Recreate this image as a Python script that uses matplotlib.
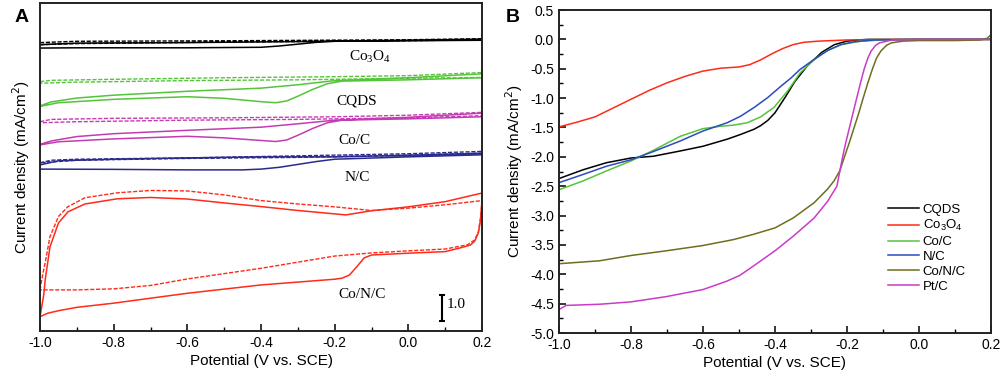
import numpy as np
import matplotlib
matplotlib.use('Agg')
import matplotlib.pyplot as plt
from matplotlib.ticker import MultipleLocator, FormatStrFormatter

plt.rcParams['font.family'] = ['Liberation Sans', 'DejaVu Sans']
plt.rcParams['axes.unicode_minus'] = False

# ---------------- panel A : CV curves (offset, arbitrary zero) ----------------
# each loop = anodic branch (-1.0 -> 0.2) followed by cathodic branch (0.2 -> -1.0)
co3o4_x = [-1.0, -0.9, -0.6, -0.3, 0.0, 0.2, 0.2, 0.0, -0.2, -0.25, -0.3, -0.35, -0.4, -0.6, -0.9, -1.0, -1.0]
co3o4_y = [11.0, 11.06, 11.08, 11.12, 11.17, 11.21, 11.17, 11.15, 11.13, 11.09, 11.02, 10.95, 10.90, 10.88, 10.88, 10.87, 11.0]
co3o4_dx = [-1.0, -0.9, -0.5, 0.0, 0.2, 0.2, 0.0, -0.5, -0.9, -1.0, -1.0]
co3o4_dy = [11.08, 11.13, 11.15, 11.19, 11.23, 11.19, 11.15, 11.10, 11.04, 11.0, 11.08]

cqds_x = [-1.0, -0.97, -0.9, -0.8, -0.6, -0.4, -0.3, -0.2, 0.0, 0.2,
          0.2, 0.0, -0.18, -0.22, -0.26, -0.3, -0.33, -0.36, -0.4, -0.5, -0.6, -0.8, -0.95, -1.0]
cqds_y = [8.65, 8.80, 8.95, 9.06, 9.21, 9.33, 9.46, 9.62, 9.73, 9.88,
          9.73, 9.65, 9.60, 9.50, 9.28, 9.02, 8.84, 8.77, 8.81, 8.94, 9.0, 8.90, 8.77, 8.63]
cqds_dx = [-1.0, -0.97, -0.8, -0.5, -0.2, 0.0, 0.2, 0.2, 0.0, -0.3, -0.6, -0.9, -1.0, -1.0]
cqds_dy = [9.58, 9.63, 9.67, 9.73, 9.77, 9.81, 9.93, 9.74, 9.71, 9.65, 9.62, 9.56, 9.52, 9.58]

coc_x = cqds_x
coc_y = [7.17, 7.30, 7.47, 7.58, 7.71, 7.83, 7.96, 8.10, 8.21, 8.37,
         8.23, 8.15, 8.10, 8.00, 7.78, 7.52, 7.34, 7.28, 7.32, 7.42, 7.48, 7.38, 7.27, 7.15]
coc_dx = [-1.0, -0.97, -0.8, -0.5, -0.2, 0.0, 0.2, 0.2, 0.0, -0.3, -0.6, -0.9, -1.0, -1.0]
coc_dy = [8.04, 8.13, 8.17, 8.19, 8.23, 8.29, 8.40, 8.27, 8.19, 8.13, 8.10, 8.04, 8.0, 8.04]

nc_x = [-1.0, -0.95, -0.8, -0.6, -0.4, -0.2, 0.0, 0.2,
        0.2, 0.0, -0.2, -0.25, -0.3, -0.35, -0.4, -0.45, -0.6, -0.8, -1.0, -1.0]
nc_y = [6.38, 6.54, 6.60, 6.65, 6.69, 6.69, 6.75, 6.83,
        6.77, 6.69, 6.60, 6.51, 6.40, 6.29, 6.22, 6.19, 6.19, 6.21, 6.22, 6.38]
nc_dx = [-1.0, -0.97, -0.9, -0.6, -0.3, 0.0, 0.2, 0.2, 0.0, -0.3, -0.6, -0.9, -1.0]
nc_dy = [6.46, 6.56, 6.60, 6.65, 6.73, 6.81, 6.90, 6.83, 6.75, 6.67, 6.63, 6.56, 6.46]

conc_x = [-1.0, -0.99, -0.986, -0.973, -0.95, -0.924, -0.878, -0.79, -0.7, -0.6, -0.5, -0.4,
          -0.3, -0.2, -0.17, -0.1, 0.0, 0.1, 0.2,
          0.2, 0.199, 0.196, 0.19, 0.18, 0.168, 0.14, 0.1, 0.0, -0.1, -0.12, -0.14, -0.16,
          -0.18, -0.2, -0.4, -0.6, -0.8, -0.9, -0.95, -0.98, -1.0]
conc_y = [0.55, 1.38, 1.96, 3.23, 4.15, 4.58, 4.88, 5.08, 5.13, 5.07, 4.92, 4.78,
          4.63, 4.50, 4.46, 4.62, 4.77, 4.97, 5.30,
          5.30, 4.85, 4.27, 3.77, 3.45, 3.30, 3.19, 3.05, 2.99, 2.92, 2.81, 2.47, 2.15,
          2.03, 1.99, 1.77, 1.45, 1.07, 0.91, 0.78, 0.68, 0.55]
conc_dx = [-1.0, -0.993, -0.986, -0.973, -0.95, -0.924, -0.878, -0.79, -0.7, -0.6, -0.5, -0.4,
           -0.3, -0.2, -0.1, 0.0, 0.1, 0.2,
           0.2, 0.197, 0.19, 0.18, 0.16, 0.1, 0.0, -0.1, -0.2, -0.4, -0.6, -0.7, -0.8, -0.9, -1.0]
conc_dy = [1.58, 2.15, 2.62, 3.62, 4.40, 4.78, 5.12, 5.31, 5.40, 5.38, 5.23, 5.01,
           4.88, 4.77, 4.63, 4.72, 4.85, 5.01,
           5.01, 4.46, 3.81, 3.50, 3.31, 3.15, 3.08, 3.00, 2.88, 2.41, 2.00, 1.75, 1.62, 1.58, 1.58]

# ---------------- panel B : LSV curves ----------------
cqds_bx = [-1.0, -0.933, -0.868, -0.8, -0.738, -0.663, -0.6, -0.533, -0.496, -0.458, -0.44,
           -0.42, -0.40, -0.37, -0.345, -0.31, -0.27, -0.235, -0.2, -0.17, -0.142, 0.0, 0.2]
cqds_by = [-2.37, -2.22, -2.10, -2.02, -1.99, -1.90, -1.82, -1.70, -1.62, -1.53, -1.47,
           -1.38, -1.25, -0.97, -0.72, -0.45, -0.22, -0.09, -0.03, -0.01, 0.0, 0.0, 0.0]

co3o4_bx = [-1.0, -0.95, -0.9, -0.85, -0.8, -0.75, -0.7, -0.65, -0.6, -0.55, -0.5, -0.47,
            -0.44, -0.41, -0.38, -0.35, -0.32, -0.28, -0.2, 0.0, 0.2]
co3o4_by = [-1.49, -1.41, -1.32, -1.17, -1.02, -0.87, -0.74, -0.63, -0.54, -0.49, -0.47, -0.43,
            -0.35, -0.25, -0.16, -0.09, -0.05, -0.03, -0.01, 0.0, 0.0]

coc_bx = [-1.0, -0.933, -0.868, -0.8, -0.738, -0.663, -0.6, -0.552, -0.515, -0.477, -0.44,
          -0.403, -0.365, -0.33, -0.291, -0.254, -0.217, -0.161, -0.1, 0.0, 0.2]
coc_by = [-2.56, -2.41, -2.24, -2.07, -1.89, -1.65, -1.52, -1.48, -1.46, -1.42, -1.32,
          -1.16, -0.88, -0.57, -0.34, -0.19, -0.09, -0.03, -0.01, 0.0, 0.0]

nc_bx = [-1.0, -0.933, -0.868, -0.8, -0.738, -0.663, -0.6, -0.533, -0.496, -0.458, -0.42,
         -0.384, -0.356, -0.33, -0.291, -0.254, -0.217, -0.18, -0.125, 0.0, 0.2]
nc_by = [-2.44, -2.30, -2.16, -2.05, -1.91, -1.73, -1.56, -1.42, -1.31, -1.16, -0.99,
         -0.80, -0.66, -0.51, -0.34, -0.19, -0.09, -0.04, -0.01, 0.0, 0.0]

conc_bx = [-1.0, -0.887, -0.8, -0.702, -0.6, -0.516, -0.46, -0.4, -0.349, -0.291, -0.254,
           -0.236, -0.22, -0.207, -0.193, -0.18, -0.167, -0.155, -0.142, -0.129, -0.118,
           -0.106, -0.09, -0.077, -0.045, 0.0, 0.1, 0.17, 0.19, 0.2]
conc_by = [-3.82, -3.77, -3.68, -3.60, -3.51, -3.41, -3.32, -3.21, -3.04, -2.78, -2.55,
           -2.41, -2.24, -2.0, -1.75, -1.5, -1.25, -1.0, -0.74, -0.5, -0.32,
           -0.2, -0.1, -0.06, -0.03, -0.02, -0.02, -0.01, 0.02, 0.08]

ptc_bx = [-1.0, -0.98, -0.933, -0.887, -0.8, -0.702, -0.6, -0.535, -0.498, -0.46, -0.4,
          -0.349, -0.291, -0.254, -0.228, -0.212, -0.203, -0.193, -0.183, -0.173, -0.162,
          -0.152, -0.142, -0.133, -0.12, -0.11, -0.074, 0.0, 0.2]
ptc_by = [-4.60, -4.53, -4.52, -4.51, -4.47, -4.38, -4.26, -4.12, -4.02, -3.86, -3.60,
          -3.35, -3.04, -2.76, -2.5, -2.0, -1.75, -1.5, -1.25, -1.0, -0.73,
          -0.5, -0.32, -0.2, -0.1, -0.06, -0.01, 0.0, 0.0]

red = '#ff2a1a'
green = '#55c43a'
magenta = '#c43cb4'
navy = '#2a2a8c'
blue = '#2b4bc0'
olive = '#6e6e1e'

fig = plt.figure(figsize=(10.03, 3.78), dpi=100)
axA = fig.add_axes([0.0399, 0.1243, 0.4407, 0.8677])
axB = fig.add_axes([0.5573, 0.119, 0.4307, 0.8545])

dash = (0, (3, 1.2))
for (sx, sy, dx, dy, c) in [(co3o4_x, co3o4_y, co3o4_dx, co3o4_dy, 'black'),
                            (cqds_x, cqds_y, cqds_dx, cqds_dy, green),
                            (coc_x, coc_y, coc_dx, coc_dy, magenta),
                            (nc_x, nc_y, nc_dx, nc_dy, navy),
                            (conc_x, conc_y, conc_dx, conc_dy, red)]:
    axA.plot(dx, dy, color=c, lw=1.0, linestyle=dash)
    axA.plot(sx, sy, color=c, lw=1.1)

axA.set_xlim(-1.0, 0.2)
axA.set_ylim(0, 12.6)
axA.set_yticks([])
axA.xaxis.set_major_locator(MultipleLocator(0.2))
axA.xaxis.set_minor_locator(MultipleLocator(0.1))
axA.xaxis.set_major_formatter(FormatStrFormatter('%.1f'))
axA.set_xlabel('Potential (V vs. SCE)', fontsize=11, labelpad=3)
axA.set_ylabel('Current density (mA/cm$^2$)', fontsize=11, labelpad=6)

serif = ['Liberation Serif', 'DejaVu Serif']
labels_a = [(r'$\mathregular{Co_3O_4}$', -0.104, 10.54), ('CQDS', -0.139, 8.85), ('Co/C', -0.147, 7.31),
            ('N/C', -0.139, 5.88), ('Co/N/C', -0.126, 1.42)]
for t, x, y in labels_a:
    axA.text(x, y, t, family=serif, fontsize=11, ha='center', va='center')

# scale bar
scale_x, scale_lo, scale_len = 0.0915, 0.38, 1.0
axA.vlines(scale_x, scale_lo, scale_lo + scale_len, color='black', lw=1.5)
axA.hlines([scale_lo, scale_lo + scale_len], scale_x - 0.008, scale_x + 0.008, color='black', lw=1.5)
axA.text(scale_x + 0.012, scale_lo + 0.65 * scale_len, '1.0', family=serif, fontsize=11,
         ha='left', va='center')

series_b = [(cqds_bx, cqds_by, 'black', 'CQDS'),
            (co3o4_bx, co3o4_by, red, r'$\mathregular{Co_3O_4}$'),
            (coc_bx, coc_by, green, 'Co/C'),
            (nc_bx, nc_by, blue, 'N/C'),
            (conc_bx, conc_by, olive, 'Co/N/C'),
            (ptc_bx, ptc_by, '#c83cc8', 'Pt/C')]
for x, y, c, lab in series_b:
    axB.plot(x, y, color=c, lw=1.1, label=lab)

axB.set_xlim(-1.0, 0.2)
axB.set_ylim(-5.0, 0.5)
axB.xaxis.set_major_locator(MultipleLocator(0.2))
axB.xaxis.set_minor_locator(MultipleLocator(0.1))
axB.yaxis.set_major_locator(MultipleLocator(0.5))
axB.yaxis.set_minor_locator(MultipleLocator(0.25))
axB.xaxis.set_major_formatter(FormatStrFormatter('%.1f'))
axB.yaxis.set_major_formatter(FormatStrFormatter('%.1f'))
axB.set_xlabel('Potential (V vs. SCE)', fontsize=11, labelpad=3)
axB.set_ylabel('Current density (mA/cm$^2$)', fontsize=11, labelpad=4)
axB.legend(loc='center left', bbox_to_anchor=(0.735, 0.263), frameon=False, fontsize=9.5,
           handlelength=2.3, handletextpad=0.3, labelspacing=0.2)

for ax in (axA, axB):
    for s in ax.spines.values():
        s.set_linewidth(1.4)
        s.set_color('#222222')
    ax.tick_params(which='both', direction='in', top=False, right=False, labelsize=10)
    ax.tick_params(which='major', length=5, width=1.1)
    ax.tick_params(which='minor', length=3, width=1.0)

fig.text(0.022, 0.955, 'A', fontsize=14, fontweight='bold', ha='center', va='center')
fig.text(0.511, 0.955, 'B', fontsize=14, fontweight='bold', ha='center', va='center')

fig.savefig('out.png', dpi=100)
